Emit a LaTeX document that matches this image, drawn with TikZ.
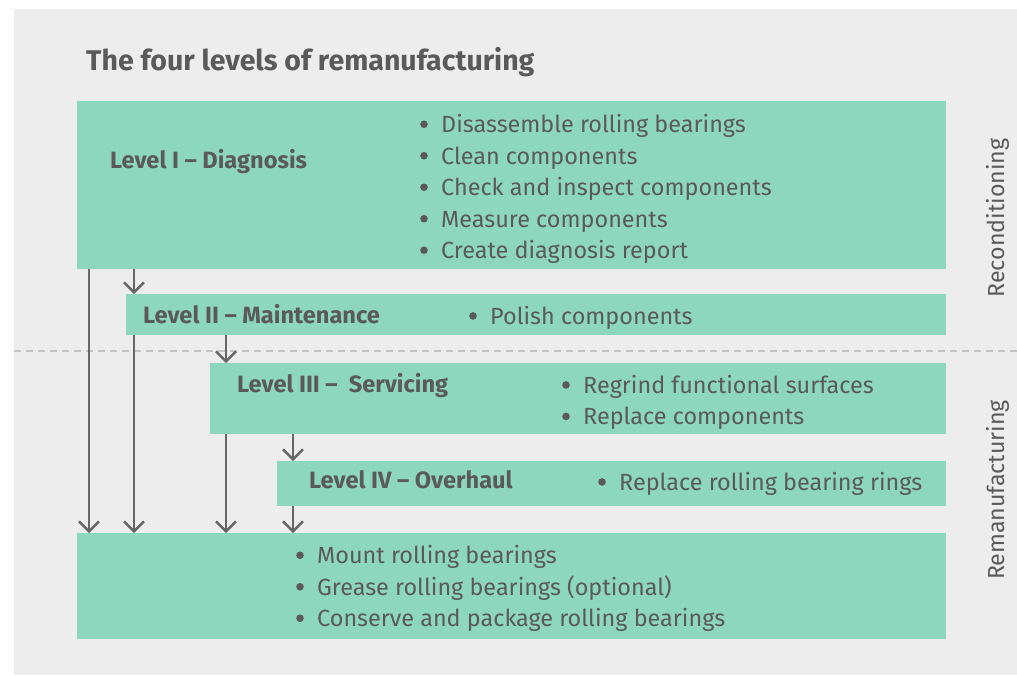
\documentclass[tikz,border=0pt]{standalone}
\usepackage{fontspec}
\setmainfont{Fira Sans}
\usepackage{tikz}
\usetikzlibrary{arrows.meta, positioning}

\definecolor{panel}{HTML}{EDEDED}
\definecolor{mint}{HTML}{8ED7BF}
\definecolor{ink}{HTML}{5A5A5A}
\definecolor{flowgray}{HTML}{666666}
\definecolor{dashgray}{HTML}{C4C4C4}

\newcommand{\bulletmark}{\tikz[baseline=0pt, x=1pt, y=1pt]\fill[ink] (3.8,8.3) circle[radius=3.8];}
\newcommand{\itm}[1]{\strut\makebox[21pt][l]{\bulletmark}#1}

\tikzset{
  level/.style={fill=mint, anchor=north west, inner sep=0pt},
  lvltext/.style={anchor=base west, inner sep=0pt, text=ink,
    font=\bfseries\fontsize{23.6}{28}\selectfont},
  items/.style={anchor=north west, inner sep=0pt, align=left, text=ink,
    font=\fontsize{23.4}{31.5}\selectfont},
  flow/.style={draw=flowgray, line width=2.6pt,
    -{Straight Barb[length=10pt, width=20pt, line width=2.4pt]}},
}

\begin{document}
\begin{tikzpicture}[x=1pt, y=-1pt]
  \useasboundingbox (0,0) rectangle (1017,675);
  \fill[panel] (14,9) rectangle (1017,675);
  \node[anchor=base west, inner sep=0pt, text=ink,
    font=\bfseries\fontsize{28.5}{34}\selectfont] (title) at (86,70)
    {The four levels of remanufacturing};

  % the five boxes
  \node[level, minimum width=869pt, minimum height=168pt] (l1) at (77,101) {};
  \node[level, minimum width=820pt, minimum height=41pt]  (l2) at (126,294) {};
  \node[level, minimum width=736pt, minimum height=71pt]  (l3) at (210,363) {};
  \node[level, minimum width=669pt, minimum height=45pt]  (l4) at (277,461) {};
  \node[level, minimum width=869pt, minimum height=106pt] (fin) at (77,533) {};

  \draw[dashgray, line width=2.5pt, dash pattern=on 7pt off 5pt]
    (14,351) coordinate (dashL) -- (1017,351) coordinate (dashR);

  % level names
  \node[lvltext] (n1) at (110,168) {Level I – Diagnosis};
  \node[lvltext] (n2) at (143,323.5) {Level II – Maintenance};
  \node[lvltext] (n3) at (237,392.5) {Level III –\ \ Servicing};
  \node[lvltext] (n4) at (309,488.5) {Level IV – Overhaul};

  % tasks
  \node[items] (t1) at (420,110.3) {\itm{Disassemble rolling bearings}\\
    \itm{Clean components}\\ \itm{Check and inspect components}\\
    \itm{Measure components}\\ \itm{Create diagnosis report}};
  \node[items] (t2) at (469,302) {\itm{Polish components}};
  \node[items] (t3) at (562,371) {\itm{Regrind functional surfaces}\\
    \itm{Replace components}};
  \node[items] (t4) at (598,468) {\itm{Replace rolling bearing rings}};
  \node[items] (t5) at (296,541.3) {\itm{Mount rolling bearings}\\
    \itm{Grease rolling bearings (optional)}\\
    \itm{Conserve and package rolling bearings}};

  % side labels
  \node[rotate=90, anchor=base, inner sep=0pt, text=ink,
    font=\fontsize{23.2}{28}\selectfont] (recon) at (1004,218) {Reconditioning};
  \node[rotate=90, anchor=base, inner sep=0pt, text=ink,
    font=\fontsize{23.2}{28}\selectfont] (reman) at (1004,490) {Remanufacturing};

  % arrows
  \draw[flow] ([xshift=12pt]l1.south west) -- ([xshift=12pt]fin.north west);
  \draw[flow] ([xshift=8pt]l2.north west |- l1.south) -- ([xshift=8pt]l2.north west);
  \draw[flow] ([xshift=8pt]l2.south west) -- ([xshift=8pt]l2.south west |- fin.north);
  \draw[flow] ([xshift=16pt]l3.north west |- l2.south) -- ([xshift=16pt]l3.north west);
  \draw[flow] ([xshift=16pt]l3.south west) -- ([xshift=16pt]l3.south west |- fin.north);
  \draw[flow] ([xshift=16pt]l4.north west |- l3.south) -- ([xshift=16pt]l4.north west);
  \draw[flow] ([xshift=16pt]l4.south west) -- ([xshift=16pt]l4.south west |- fin.north);
\end{tikzpicture}
\end{document}
